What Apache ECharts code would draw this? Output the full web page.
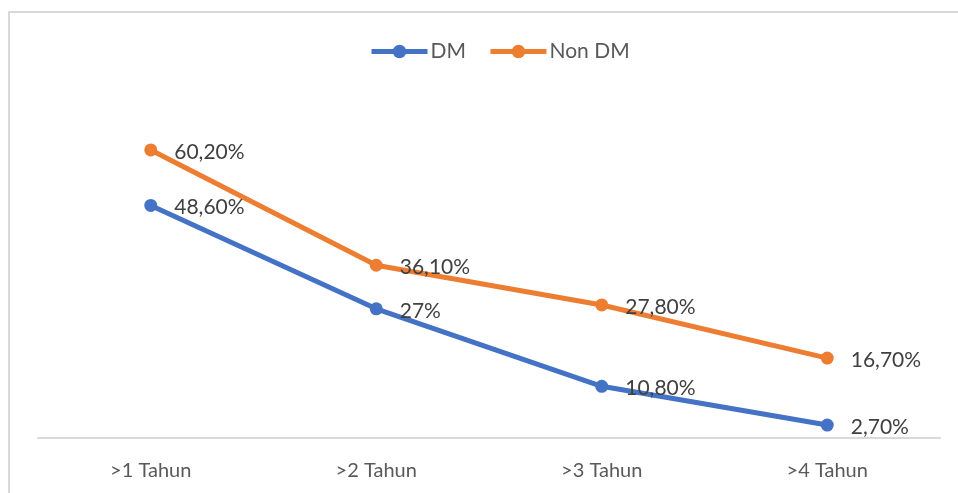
<!DOCTYPE html>
<html>
<head>
<meta charset="utf-8">
<script src="https://cdn.jsdelivr.net/npm/echarts@6/dist/echarts.min.js"></script>
<style>
html,body{margin:0;padding:0;background:#fff;}
#c{width:958px;height:493px;}
</style>
</head>
<body>
<div id="c"></div>
<script>
const categories = ['>1 Tahun', '>2 Tahun', '>3 Tahun', '>4 Tahun'];
const dmValues = [48.6, 27, 10.8, 2.7];
const nonDmValues = [60.2, 36.1, 27.8, 16.7];
const dmLabels = ['48,60%', '27%', '10,80%', '2,70%'];
const nonDmLabels = ['60,20%', '36,10%', '27,80%', '16,70%'];

const chart = echarts.init(document.getElementById('c'), null, {renderer: 'canvas'});
const FONT = 'Lato';
function lbl(texts) {
  return {
    show: true,
    position: 'right',
    distance: 0,
    offset: [17, 2],
    formatter: p => texts[p.dataIndex],
    color: '#404040',
    fontFamily: FONT,
    fontSize: 21
  };
}
const option = {
  animation: false,
  backgroundColor: '#fff',
  graphic: [{
    type: 'rect',
    shape: {x: 9, y: 12, width: 1000, height: 600},
    style: {fill: 'none', stroke: '#d9d9d9', lineWidth: 2},
    silent: true
  }],
  legend: {
    top: 36,
    left: 364,
    itemWidth: 56,
    itemHeight: 17,
    itemGap: 22,
    lineStyle: {width: 5},
    textStyle: {color: '#595959', fontFamily: FONT, fontSize: 21, padding: [0, 0, 0, -2]},
    data: ['DM', 'Non DM']
  },
  grid: {left: 38, right: 18, top: 103, bottom: 55},
  xAxis: {
    type: 'category',
    data: categories,
    boundaryGap: true,
    axisLine: {lineStyle: {color: '#d9d9d9', width: 2}},
    axisTick: {show: false},
    axisLabel: {color: '#595959', fontFamily: FONT, fontSize: 20, margin: 23}
  },
  yAxis: {
    type: 'value',
    min: 0,
    max: 70,
    show: false
  },
  series: [
    {
      name: 'DM',
      type: 'line',
      data: dmValues,
      color: '#4472C4',
      lineStyle: {width: 5, color: '#4472C4'},
      symbol: 'circle',
      symbolSize: 13,
      itemStyle: {color: '#4472C4'},
      label: lbl(dmLabels),
      z: 3
    },
    {
      name: 'Non DM',
      type: 'line',
      data: nonDmValues,
      color: '#ED7D31',
      lineStyle: {width: 5, color: '#ED7D31'},
      symbol: 'circle',
      symbolSize: 13,
      itemStyle: {color: '#ED7D31'},
      label: lbl(nonDmLabels),
      z: 2
    }
  ]
};
chart.setOption(option);
</script>
</body>
</html>
